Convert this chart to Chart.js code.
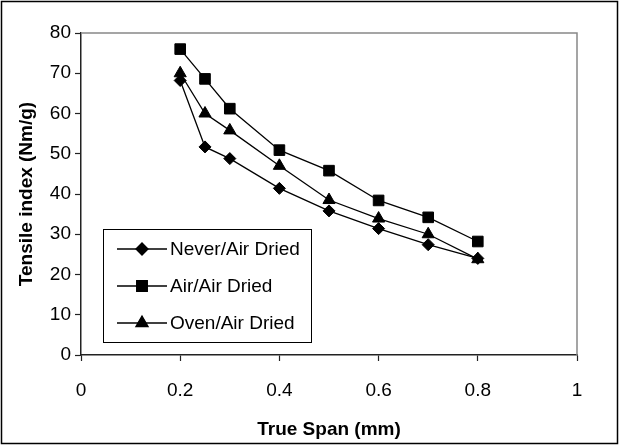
<!DOCTYPE html>
<html>
<head>
<meta charset="utf-8">
<script src="https://cdn.jsdelivr.net/npm/chart.js@4.4.0/dist/chart.umd.min.js"></script>
<style>
  html, body { margin: 0; padding: 0; background: #fff; }
</style>
</head>
<body>
<canvas id="myChart" width="620" height="446"></canvas>
<script>
// values
var spans = [0.2, 0.25, 0.3, 0.4, 0.5, 0.6, 0.7, 0.8]
var neverAir = [68.2, 51.7, 48.8, 41.4, 35.8, 31.4, 27.4, 24.0]
var airAir = [76.0, 68.6, 61.2, 50.9, 45.8, 38.4, 34.2, 28.2]
var ovenAir = [70.0, 60.0, 55.8, 47.0, 38.5, 33.9, 30.0, 23.8]
var seriesNames = ['Never/Air Dried', 'Air/Air Dried', 'Oven/Air Dried']
var xTicks = [0, 0.2, 0.4, 0.6, 0.8, 1]
var yTicks = [0, 10, 20, 30, 40, 50, 60, 70, 80]

var fontFam = '"Liberation Sans", Arial, sans-serif'

function toPoints(ys) {
    return spans.map((x, i) => ({x: x, y: ys[i]}))
}

function makeSet(label, ys, style, r) {
    return {
        label: label,
        data: toPoints(ys),
        showLine: true,
        borderColor: '#000',
        borderWidth: 1.3,
        backgroundColor: '#000',
        pointStyle: style,
        pointRadius: r,
        pointHoverRadius: r,
        pointBorderWidth: 1,
        pointBorderColor: '#000',
        pointBackgroundColor: '#000'
    }
}

// outer frame and grey plot-area edge
var framePlugin = {
    id: 'frame',
    beforeDraw(chart) {
        var ctx = chart.ctx
        ctx.save()
        ctx.fillStyle = '#fff'
        ctx.fillRect(0, 0, chart.width, chart.height)
        ctx.strokeStyle = '#000'
        ctx.lineWidth = 1.5
        ctx.strokeRect(1.5, 1.5, chart.width - 4, chart.height - 4)
        ctx.restore()
    },
    afterDraw(chart) {
        var a = chart.chartArea, ctx = chart.ctx
        ctx.save()
        ctx.strokeStyle = '#888'
        ctx.lineWidth = 1.5
        ctx.beginPath()
        ctx.moveTo(a.left, a.top); ctx.lineTo(a.right, a.top); ctx.lineTo(a.right, a.bottom)
        ctx.stroke()
        ctx.restore()
    }
}

// boxed legend inside the plot
var legendBox = {
    id: 'legendBox',
    afterDatasetsDraw(chart) {
        var ctx = chart.ctx
        var x0 = 103, y0 = 229, w = 208, h = 113
        ctx.save()
        ctx.fillStyle = '#fff'
        ctx.fillRect(x0, y0, w, h)
        ctx.strokeStyle = '#000'
        ctx.lineWidth = 1
        ctx.strokeRect(x0 + 0.5, y0 + 0.5, w, h)
        var rows = [249, 286, 323]
        chart.data.datasets.forEach((ds, i) => {
            var y = rows[i]
            ctx.strokeStyle = '#000'
            ctx.lineWidth = 1.3
            ctx.beginPath()
            ctx.moveTo(117, y); ctx.lineTo(167, y)
            ctx.stroke()
            ctx.fillStyle = '#000'
            Chart.helpers.drawPoint(ctx, {
                pointStyle: ds.pointStyle,
                radius: ds.pointRadius,
                borderWidth: 1,
                rotation: 0
            }, 142, y)
            ctx.fill()
            ctx.font = '19px ' + fontFam
            ctx.textBaseline = 'middle'
            ctx.textAlign = 'left'
            ctx.fillText(ds.label, 170, y + 1)
        })
        ctx.restore()
    }
}

const ctx = document.getElementById('myChart')
var myPlot = new Chart(ctx, {
    type: 'scatter',
    data: {
        datasets: [
            makeSet(seriesNames[0], neverAir, 'rectRot', 6),
            makeSet(seriesNames[1], airAir, 'rect', 7.5),
            makeSet(seriesNames[2], ovenAir, 'triangle', 7)
        ]
    },
    options: {
        responsive: false,
        animation: false,
        layout: {padding: {top: 33, right: 43, left: 0, bottom: 0}},
        plugins: {
            legend: {display: false},
            tooltip: {enabled: false}
        },
        scales: {
            x: {
                type: 'linear',
                min: 0,
                max: 1,
                afterBuildTicks: s => { s.ticks = xTicks.map(v => ({value: v})) },
                afterFit: s => { s.height = 91 },
                grid: {drawOnChartArea: false, drawTicks: true, tickLength: 6, tickColor: '#222', tickWidth: 1.2},
                border: {color: '#222', width: 1.5},
                ticks: {
                    color: '#000',
                    padding: 18,
                    maxRotation: 0,
                    font: {family: fontFam, size: 19},
                    callback: v => String(Math.round(v * 10) / 10)
                },
                title: {
                    display: true,
                    text: 'True Span (mm)',
                    color: '#000',
                    font: {family: fontFam, size: 19, weight: 'bold'},
                    padding: {top: 0, bottom: 5}
                }
            },
            y: {
                min: 0,
                max: 80,
                afterBuildTicks: s => { s.ticks = yTicks.map(v => ({value: v})) },
                afterFit: s => { s.width = 81 },
                grid: {drawOnChartArea: false, drawTicks: true, tickLength: 6, tickColor: '#222', tickWidth: 1.2},
                border: {color: '#222', width: 1.5},
                ticks: {
                    color: '#000',
                    padding: 4,
                    font: {family: fontFam, size: 19}
                },
                title: {
                    display: true,
                    text: 'Tensile index (Nm/g)',
                    color: '#000',
                    font: {family: fontFam, size: 19, weight: 'bold'},
                    padding: {top: 15, bottom: 0}
                }
            }
        }
    },
    plugins: [framePlugin, legendBox]
})
</script>
</body>
</html>
